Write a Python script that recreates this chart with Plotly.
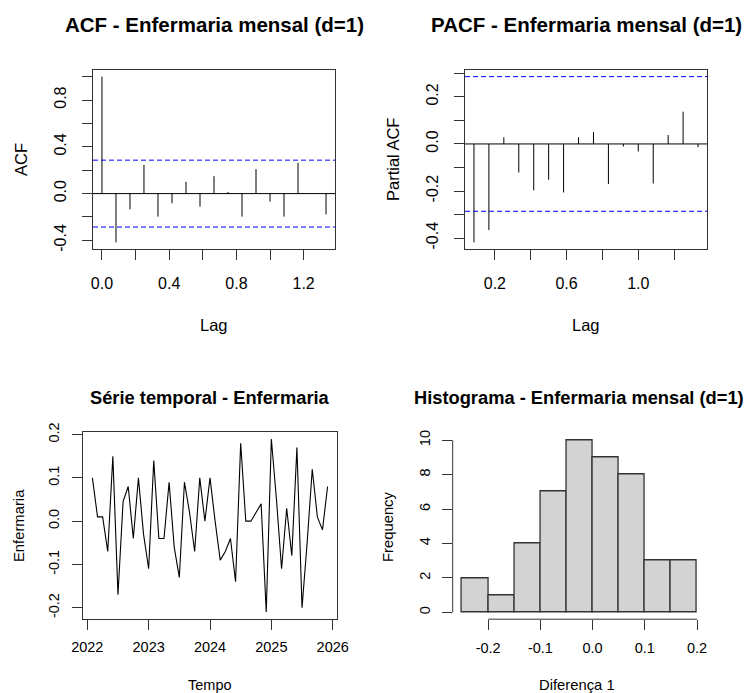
import numpy as np
import plotly.graph_objects as go

# ---------------- data ----------------
freq = 12
acf_lag_k = list(range(0, 17))
acf_vals = [1.0, -0.417, -0.134, 0.246, -0.197, -0.083, 0.100, -0.111, 0.149,
            0.014, -0.197, 0.209, -0.069, -0.197, 0.263, 0.003, -0.177]
pacf_lag_k = list(range(1, 17))
pacf_vals = [-0.418, -0.366, 0.028, -0.121, -0.197, -0.152, -0.206, 0.028, 0.051,
             -0.170, -0.011, -0.032, -0.168, 0.038, 0.137, -0.014]
n_obs = 47
ci = 1.96 / np.sqrt(n_obs)

start_year = 2022
start_month = 2  # Feb 2022
serie = [0.10, 0.01, 0.01, -0.07, 0.15, -0.17, 0.045, 0.08, -0.04, 0.10,
         -0.03, -0.11, 0.14, -0.04, -0.04, 0.09, -0.06, -0.13, 0.09, 0.02,
         -0.07, 0.10, 0.00, 0.10, 0.00, -0.09, -0.07, -0.04, -0.14, 0.18,
         0.00, 0.00, 0.02, 0.04, -0.21, 0.19, 0.05, -0.11, 0.03, -0.08,
         0.17, -0.20, -0.05, 0.12, 0.01, -0.02, 0.08]

hist_edges = [-0.25, -0.20, -0.15, -0.10, -0.05, 0.00, 0.05, 0.10, 0.15, 0.20]
hist_counts = [2, 1, 4, 7, 10, 9, 8, 3, 3]

acf_xticks = [0.0, 0.2, 0.4, 0.6, 0.8, 1.0, 1.2]
acf_xlabels = ["0.0", "", "0.4", "", "0.8", "", "1.2"]
acf_yticks = [-0.4, -0.2, 0.0, 0.2, 0.4, 0.6, 0.8, 1.0]
acf_ylabels = ["-0.4", "", "0.0", "", "0.4", "", "0.8", ""]
pacf_xticks = [0.2, 0.4, 0.6, 0.8, 1.0, 1.2]
pacf_xlabels = ["0.2", "", "0.6", "", "1.0", ""]
pacf_yticks = [-0.4, -0.3, -0.2, -0.1, 0.0, 0.1, 0.2, 0.3]
pacf_ylabels = ["-0.4", "", "-0.2", "", "0.0", "", "0.2", ""]
ts_xticks = [2022, 2023, 2024, 2025, 2026]
ts_yticks = [-0.2, -0.1, 0.0, 0.1, 0.2]
hist_xticks = [-0.2, -0.1, 0.0, 0.1, 0.2]
hist_yticks = [0, 2, 4, 6, 8, 10]

# ---------------- derived ----------------
acf_lags = [k / freq for k in acf_lag_k]
pacf_lags = [k / freq for k in pacf_lag_k]
tempo = [start_year + (start_month - 1 + i) / freq for i in range(len(serie))]
hist_centers = [(a + b) / 2 for a, b in zip(hist_edges[:-1], hist_edges[1:])]
hist_width = hist_edges[1] - hist_edges[0]


def sticks(lags, vals):
    xs, ys = [], []
    for l, v in zip(lags, vals):
        xs += [l, l, None]
        ys += [0, v, None]
    return xs, ys


def rext(lo, hi):
    d = (hi - lo) * 0.04
    return [lo - d, hi + d]


FONT = "Liberation Sans, Arial, sans-serif"
W, H = 750, 693
AX = "#333333"

fig = go.Figure()
ax_, ay_ = sticks(acf_lags, acf_vals)
fig.add_trace(go.Scatter(x=ax_, y=ay_, mode="lines", line=dict(color="black", width=1),
                         xaxis="x", yaxis="y", showlegend=False, hoverinfo="skip"))
px_, py_ = sticks(pacf_lags, pacf_vals)
fig.add_trace(go.Scatter(x=px_, y=py_, mode="lines", line=dict(color="black", width=1),
                         xaxis="x2", yaxis="y2", showlegend=False, hoverinfo="skip"))
fig.add_trace(go.Scatter(x=tempo, y=serie, mode="lines", line=dict(color="black", width=1.1),
                         xaxis="x3", yaxis="y3", showlegend=False))
fig.add_trace(go.Bar(x=hist_centers, y=hist_counts, width=hist_width,
                     marker=dict(color="#D3D3D3", line=dict(color="#333333", width=1.3)),
                     xaxis="x4", yaxis="y4", showlegend=False))


def px_dom_x(a, b):
    return [a / W, b / W]


def px_dom_y(top, bottom):
    return [1 - bottom / H, 1 - top / H]


def axis(domain, anchor, rng, tickvals, ticktext=None, angle=0, size=16, box=True, standoff=6):
    d = dict(domain=domain, anchor=anchor, range=rng, tickmode="array", tickvals=tickvals,
             showgrid=False, zeroline=False, ticks="outside", ticklen=10, tickwidth=1,
             tickcolor=AX, tickangle=angle, ticklabelstandoff=standoff, automargin=False,
             tickfont=dict(family=FONT, size=size, color="black"),
             showline=box, mirror=box, linecolor=AX, linewidth=1, fixedrange=True)
    if ticktext is not None:
        d["ticktext"] = ticktext
    return d


acf_yr = rext(min(acf_vals + [-ci]), max(acf_vals + [ci]))
pacf_yr = rext(min(pacf_vals + [-ci]), max(pacf_vals + [ci]))

layout = dict(
    width=W, height=H, margin=dict(l=0, r=0, t=0, b=0, pad=0, autoexpand=False), autosize=False,
    paper_bgcolor="white", plot_bgcolor="white", showlegend=False, bargap=0,
    font=dict(family=FONT, color="black"),
    xaxis=axis(px_dom_x(93, 335), "y", rext(acf_lags[0], acf_lags[-1]), acf_xticks, acf_xlabels,
               standoff=10),
    yaxis=axis(px_dom_y(70, 249), "x", acf_yr, acf_yticks, acf_ylabels, angle=-90, standoff=10),
    xaxis2=axis(px_dom_x(465, 707), "y2", rext(pacf_lags[0], pacf_lags[-1]), pacf_xticks, pacf_xlabels,
                standoff=10),
    yaxis2=axis(px_dom_y(70, 249), "x2", pacf_yr, pacf_yticks, pacf_ylabels, angle=-90, standoff=10),
    xaxis3=axis(px_dom_x(83, 337), "y3", rext(tempo[0], tempo[-1]), ts_xticks,
                [str(v) for v in ts_xticks], size=14.5, standoff=5),
    yaxis3=axis(px_dom_y(432, 619), "x3", rext(min(serie), max(serie)), ts_yticks,
                ["%.1f" % v for v in ts_yticks], angle=-90, size=14.5, standoff=7),
    xaxis4=axis(px_dom_x(452.7, 706.4), "y4", rext(hist_edges[0], hist_edges[-1]), hist_xticks,
                ["%.1f" % v for v in hist_xticks], size=14.5, box=False, standoff=5),
    yaxis4=axis(px_dom_y(433.4, 619.2), "x4", rext(0, max(hist_counts)), hist_yticks,
                [str(v) for v in hist_yticks], angle=-90, size=14.5, box=False, standoff=6),
)
fig.update_layout(**layout)

shapes = []
for xr, yr in (("x", "y"), ("x2", "y2")):
    shapes.append(dict(type="line", xref=xr + " domain", x0=0, x1=1, yref=yr, y0=0, y1=0,
                       line=dict(color="black", width=1)))
    for v in (ci, -ci):
        shapes.append(dict(type="line", xref=xr + " domain", x0=0, x1=1, yref=yr, y0=v, y1=v,
                           line=dict(color="#0000FF", width=1, dash="5px,3px")))
# R-style axis lines for the histogram (spanning first to last tick)
shapes.append(dict(type="line", xref="x4", x0=hist_xticks[0], x1=hist_xticks[-1],
                   yref="y4 domain", y0=0, y1=0, line=dict(color=AX, width=1)))
shapes.append(dict(type="line", xref="x4 domain", x0=0, x1=0, yref="y4",
                   y0=hist_yticks[0], y1=hist_yticks[-1], line=dict(color=AX, width=1)))
fig.update_layout(shapes=shapes)


def ann(text, x, y, size, angle=0, bold=False):
    return dict(text=("<b>%s</b>" % text) if bold else text, x=x / W, y=1 - y / H,
                xref="paper", yref="paper", showarrow=False, textangle=angle,
                xanchor="center", yanchor="middle",
                font=dict(family=FONT, size=size, color="black"))


annotations = [
    ann("ACF - Enfermaria mensal (d=1)", 214, 25, 20.5, bold=True),
    ann("PACF - Enfermaria mensal (d=1)", 586, 25, 20.5, bold=True),
    ann("Série temporal - Enfermaria", 210, 397, 18.3, bold=True),
    ann("Histograma - Enfermaria mensal (d=1)", 579, 397, 18.3, bold=True),
    ann("ACF", 21, 160, 16.5, angle=-90),
    ann("Lag", 214, 325, 16.5),
    ann("Partial ACF", 393, 160, 16.5, angle=-90),
    ann("Lag", 586, 325, 16.5),
    ann("Enfermaria", 19, 526, 14.8, angle=-90),
    ann("Tempo", 210, 685, 14.5),
    ann("Frequency", 388, 527, 14.8, angle=-90),
    ann("Diferença 1", 577, 685, 14.8),
]
fig.update_layout(annotations=annotations)

fig.write_html("out.html")
